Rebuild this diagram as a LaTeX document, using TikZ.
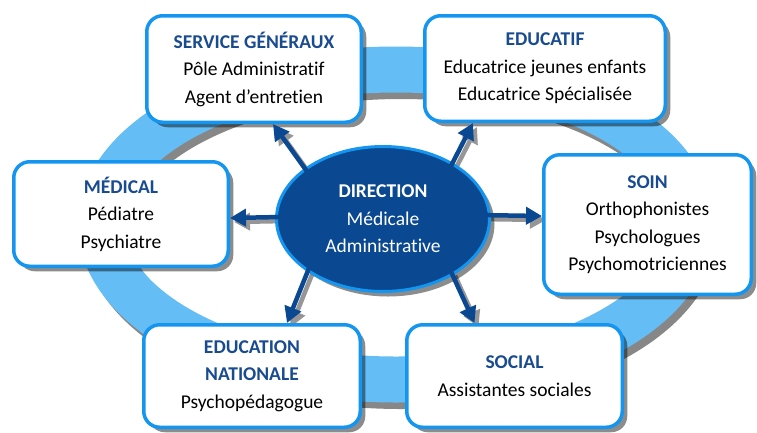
\documentclass[tikz,border=0pt]{standalone}
\usepackage{fontspec}
\setmainfont{Carlito}[Ligatures=NoCommon]
\usetikzlibrary{arrows.meta,shapes.geometric,shadows,calc,backgrounds}
\definecolor{ringc}{RGB}{100,189,245}
\definecolor{ringsh}{RGB}{135,135,135}
\definecolor{bordc}{RGB}{20,150,240}
\definecolor{dirc}{RGB}{10,73,145}
\definecolor{titc}{RGB}{25,75,145}
\definecolor{arrsh}{RGB}{150,150,150}
\newcommand\boxtitle[1]{\textbf{\color{titc}#1}}
\begin{document}
\begin{tikzpicture}[x=1pt,y=-1pt,
  box/.style={draw=bordc, line width=3.5pt, fill=white, rounded corners=16pt,
    align=center, inner sep=0pt, font=\fontsize{19.5}{27.5}\selectfont,
    drop shadow={shadow xshift=5pt, shadow yshift=-5pt, fill=black, opacity=.45}},
  dirnode/.style={ellipse, draw=bordc, line width=3pt, fill=dirc, text=white,
    align=center, inner sep=0pt, minimum width=213pt, minimum height=145pt,
    font=\fontsize{19.5}{27.5}\selectfont,
    drop shadow={shadow xshift=5pt, shadow yshift=-5pt, fill=black, opacity=.45}},
  arr/.style={draw=dirc, line width=4.5pt, -{Triangle[length=16pt,width=17pt]}, shorten <=-4pt},
  arrshadow/.style={draw=arrsh, line width=4.5pt, -{Triangle[length=16pt,width=17pt]}, shorten <=-4pt}
]
\useasboundingbox (0,0) rectangle (757,432);

% ring
\begin{pgfonlayer}{background}
\fill[white] (0,0) rectangle (757,432);
\draw[ringsh, line width=46pt] (401,231) ellipse [x radius=295pt, y radius=155pt];
\draw[ringc, line width=46pt] (396,224.5) ellipse [x radius=295pt, y radius=155pt];
\end{pgfonlayer}

% boxes
\node[box, minimum width=214.5pt, minimum height=106.5pt] (sg) at (254,69)
  {\boxtitle{SERVICE GÉNÉRAUX}\\Pôle Administratif\\Agent d’entretien};
\node[box, minimum width=240.5pt, minimum height=105.5pt] (edu) at (545,68.5)
  {\boxtitle{EDUCATIF}\\Educatrice jeunes enfants\\Educatrice Spécialisée};
\node[box, minimum width=214.5pt, minimum height=104.5pt] (med) at (121,214)
  {\boxtitle{MÉDICAL}\\Pédiatre\\Psychiatre};
\node[box, minimum width=207.5pt, minimum height=139.5pt] (soin) at (647.5,224.5)
  {\boxtitle{SOIN}\\Orthophonistes\\Psychologues\\Psychomotriciennes};
\node[box, minimum width=216.5pt, minimum height=102.5pt] (en) at (252,376)
  {\boxtitle{EDUCATION}\\\boxtitle{NATIONALE}\\Psychopédagogue};
\node[box, minimum width=215.5pt, minimum height=102.5pt] (soc) at (514.5,376)
  {\boxtitle{SOCIAL}\\Assistantes sociales};

% centre
\node[dirnode] (dir) at (383,219) {\textbf{DIRECTION}\\Médicale\\Administrative};

% arrow shadows
\begin{pgfonlayer}{background}
\begin{scope}[transform canvas={shift={(4pt,-4pt)}}]
\draw[arrshadow] (dir.147) -- ($(sg.south)+(19,0)$);
\draw[arrshadow] (dir.39) -- ($(edu.south)+(-72,0)$);
\draw[arrshadow] (dir.179) -- ($(med.east)+(0,4)$);
\draw[arrshadow] (dir.2) -- ($(soin.west)+(0,-8.5)$);
\draw[arrshadow] (dir.215) -- ($(en.north)+(35,0)$);
\draw[arrshadow] (dir.321) -- ($(soc.north)+(-40,0)$);
\end{scope}
\end{pgfonlayer}

% arrows
\draw[arr] (dir.147) -- ($(sg.south)+(19,0)$);
\draw[arr] (dir.39) -- ($(edu.south)+(-72,0)$);
\draw[arr] (dir.179) -- ($(med.east)+(0,4)$);
\draw[arr] (dir.2) -- ($(soin.west)+(0,-8.5)$);
\draw[arr] (dir.215) -- ($(en.north)+(35,0)$);
\draw[arr] (dir.321) -- ($(soc.north)+(-40,0)$);
\end{tikzpicture}
\end{document}
